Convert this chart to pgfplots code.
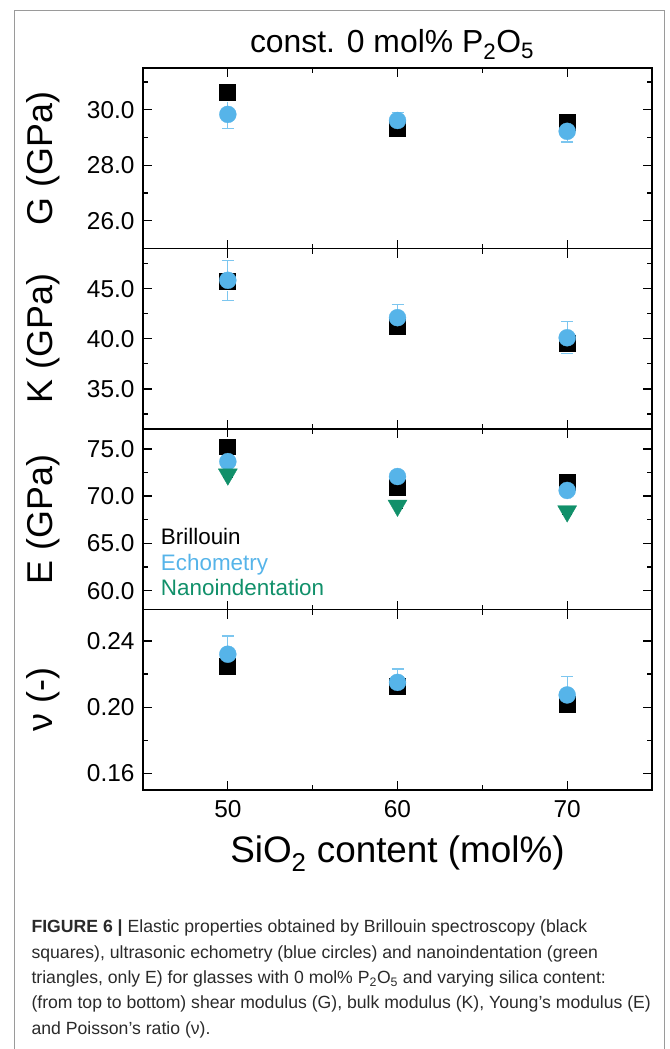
\documentclass[border=0pt]{standalone}
\usepackage{fontspec}
\setmainfont{Liberation Sans}
\usepackage{pgfplots}
\pgfplotsset{compat=1.18}
\usepackage{pgfplotstable}
\definecolor{echocol}{HTML}{56B4E9}
\definecolor{echoerr}{HTML}{7CC6EF}
\definecolor{nanocol}{HTML}{11906A}
\definecolor{framegray}{HTML}{9A9A9A}
\definecolor{captext}{HTML}{2A2A2A}

% G (GPa)
\pgfplotstableread{
x y e
50 30.62 0.29
60 29.33 0.30
70 29.55 0.25
}\GBri
\pgfplotstableread{
x y e
50 29.83 0.52
60 29.61 0.28
70 29.22 0.39
}\GEcho
% K (GPa)
\pgfplotstableread{
x y e
50 45.7 0.6
60 41.2 0.6
70 39.5 0.5
}\KBri
\pgfplotstableread{
x y e
50 45.83 2.0
60 42.1 1.35
70 40.1 1.6
}\KEcho
% E (GPa)
\pgfplotstableread{
x y e
50 75.2 0.8
60 70.9 0.6
70 71.4 0.5
}\EBri
\pgfplotstableread{
x y e
50 73.65 0.4
60 72.07 0.4
70 70.6 0.55
}\EEcho
\pgfplotstableread{
x y e
50 72.3 0.3
60 69.0 0.3
70 68.4 0.3
}\ENano
% nu
\pgfplotstableread{
x y e
50 0.2248 0.0045
60 0.2124 0.0040
70 0.2014 0.0040
}\NBri
\pgfplotstableread{
x y e
50 0.2320 0.011
60 0.2150 0.008
70 0.2074 0.011
}\NEcho

\pgfplotsset{
  panel/.style={
    at={#1}, anchor=north west,
    width=509bp, height=180.5bp, scale only axis,
    xmin=45, xmax=75, xtick={50,60,70}, minor xtick={55,65},
    tick align=inside, tick pos=both,
    major tick length=9bp, minor tick length=5bp,
    axis line style={line width=1.6bp},
    every tick/.style={black, line width=1.3bp},
    every minor tick/.style={black, line width=1.3bp},
    tick label style={font=\fontsize{24.5}{24.5}\selectfont},
    yticklabel style={xshift=-5bp},
    xticklabel style={yshift=-7bp},
    /pgf/number format/assume math mode=true,
    xticklabels={,,},
    every axis y label/.style={at={(axis description cs:0,0.5)}, anchor=center, xshift=-100bp, rotate=90, font=\fontsize{36}{36}\selectfont},
    clip=false,
  },
  stBri/.style={only marks, mark=square*, mark size=9bp, black, mark options={fill=black, draw=white, line width=1.1bp},
    error bars/.cd, y dir=both, y explicit,
    error bar style={white, line width=1.6bp},
    error mark options={rotate=90, black, mark size=9bp, line width=1.9bp}},
  stEcho/.style={only marks, mark=*, mark size=8.5bp, color=echocol, mark options={fill=echocol, draw=echocol, line width=0.3bp},
    error bars/.cd, y dir=both, y explicit,
    error bar style={color=echoerr, line width=1.3bp},
    error mark options={rotate=90, color=echoerr, mark size=6bp, line width=1.3bp}},
  stNano/.style={only marks, mark=triangle*, mark size=11bp, color=nanocol, mark options={fill=nanocol, draw=nanocol, rotate=180, line width=0.3bp},
    error bars/.cd, y dir=both, y explicit,
    error bar style={black, line width=1bp},
    error mark options={rotate=90, black, mark size=5bp, line width=1bp}},
}

\begin{document}
\begin{tikzpicture}
\path[use as bounding box] (0,0) rectangle (670bp,-1049bp);
\draw[framegray, line width=1bp] (14bp,-1049bp) -- (14bp,-10bp) -- (664bp,-10bp) -- (664bp,-1049bp);

\node[anchor=base, font=\fontsize{32}{32}\selectfont] at (392bp,-52bp) {const. 0 mol\% P\textsubscript{2}O\textsubscript{5}};

% G
\begin{axis}[panel={(143bp,-68bp)}, ymin=25, ymax=31.5, ytick={26,28,30}, minor ytick={27,29,31},
  yticklabel style={/pgf/number format/.cd, fixed, fixed zerofill, precision=1},
  ylabel={G (GPa)}]
\addplot+[stBri] table[x=x, y=y, y error=e] {\GBri};
\addplot+[stEcho] table[x=x, y=y, y error=e] {\GEcho};
\end{axis}

% K
\begin{axis}[panel={(143bp,-248.5bp)}, ymin=31, ymax=49, ytick={35,40,45}, minor ytick={32.5,37.5,42.5,47.5},
  yticklabel style={/pgf/number format/.cd, fixed, fixed zerofill, precision=1},
  ylabel={K (GPa)}]
\addplot+[stBri] table[x=x, y=y, y error=e] {\KBri};
\addplot+[stEcho] table[x=x, y=y, y error=e] {\KEcho};
\end{axis}

% E
\begin{axis}[panel={(143bp,-429bp)}, ymin=58, ymax=77.1, ytick={60,65,70,75}, minor ytick={62.5,67.5,72.5},
  yticklabel style={/pgf/number format/.cd, fixed, fixed zerofill, precision=1},
  ylabel={E (GPa)}]
\addplot+[stBri] table[x=x, y=y, y error=e] {\EBri};
\addplot+[stEcho] table[x=x, y=y, y error=e] {\EEcho};
\addplot+[stNano] table[x=x, y=y, y error=e] {\ENano};
\node[anchor=base west, text=black, font=\fontsize{22.5}{22.5}\selectfont] at (axis cs:45.85,64.86) {Brillouin};
\node[anchor=base west, text=echocol, font=\fontsize{22.5}{22.5}\selectfont] at (axis cs:45.85,62.1) {Echometry};
\node[anchor=base west, text=nanocol, font=\fontsize{22.5}{22.5}\selectfont] at (axis cs:45.85,59.45) {Nanoindentation};
\end{axis}

% nu
\begin{axis}[panel={(143bp,-609.5bp)}, ymin=0.15, ymax=0.259, ytick={0.16,0.20,0.24}, minor ytick={0.18,0.22},
  yticklabel style={/pgf/number format/.cd, fixed, fixed zerofill, precision=2},
  xticklabels={50,60,70},
  ylabel={ν (-)},
  xlabel={SiO\textsubscript{2} content (mol\%)},
  every axis x label/.style={at={(axis description cs:0.5,0)}, anchor=base, yshift=-72bp, font=\fontsize{37}{37}\selectfont}]
\addplot+[stBri] table[x=x, y=y, y error=e] {\NBri};
\addplot+[stEcho] table[x=x, y=y, y error=e] {\NEcho};
\end{axis}

\node[anchor=base west, align=left, font=\fontsize{17.7}{25.5}\selectfont, text=captext] at (28bp,-1034.3bp) {%
\textbf{FIGURE 6 |} Elastic properties obtained by Brillouin spectroscopy (black\\
squares), ultrasonic echometry (blue circles) and nanoindentation (green\\
triangles, only E) for glasses with 0 mol\% P\textsubscript{2}O\textsubscript{5} and varying silica content:\\
(from top to bottom) shear modulus (G), bulk modulus (K), Young’s modulus (E)\\
and Poisson’s ratio (ν).};
\end{tikzpicture}
\end{document}
